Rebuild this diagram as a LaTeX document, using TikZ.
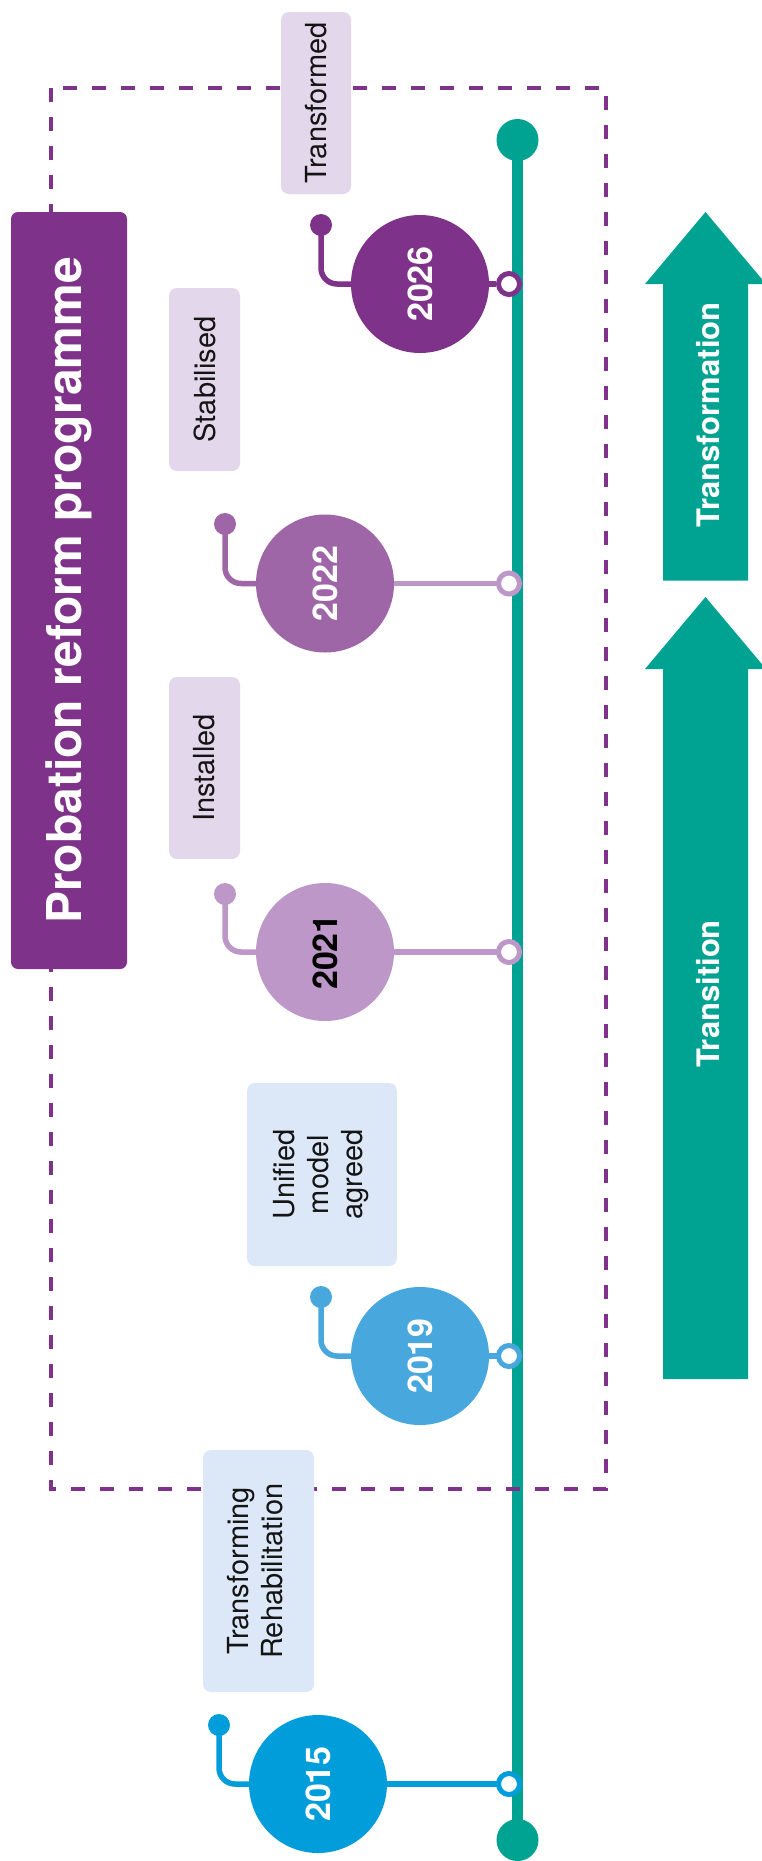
\documentclass[tikz,border=0pt]{standalone}
\usepackage{fontspec}
\usepackage{graphicx}
\setmainfont{TeX Gyre Heros}
\definecolor{pD}{HTML}{7F3289}
\definecolor{pM}{HTML}{9E66A7}
\definecolor{pL}{HTML}{BD97C7}
\definecolor{bA}{HTML}{48A7DD}
\definecolor{bB}{HTML}{009DDB}
\definecolor{gT}{HTML}{00A391}
\definecolor{boxP}{HTML}{E3D7EB}
\definecolor{boxB}{HTML}{DCE8F7}
\definecolor{txt}{HTML}{141414}
\tikzset{
  yearc/.style={circle, minimum size=138pt, inner sep=0pt, fill=#1},
  yeartxt/.style={font=\fontsize{34}{34}\selectfont\bfseries},
  dotn/.style={circle, minimum size=22pt, inner sep=0pt, fill=#1},
  ringn/.style={circle, minimum size=21pt, inner sep=0pt, fill=white, draw=#1, line width=5pt},
  hook/.style={draw=#1, line width=5.5pt, rounded corners=16pt},
  conn/.style={draw=#1, line width=5.5pt},
  labbox/.style={rectangle, rounded corners=8pt, inner sep=0pt, fill=#1, text=txt,
     font=\fontsize{29}{34}\selectfont},
  arrowlab/.style={rotate=90, text=white, font=\fontsize{31}{31}\selectfont\bfseries},
}
\begin{document}
\begin{tikzpicture}[x=1pt,y=-1pt]
\useasboundingbox (0,0) rectangle (762,1861);
\fill[white] (0,0) rectangle (762,1861);

% arrows on the right
\fill[gT] (705.5,212) -- (766,284) -- (748,284) -- (748,580.5) -- (663,580.5) -- (663,284) -- (645,284) -- cycle;
\fill[gT] (705.5,597) -- (766,669) -- (748,669) -- (748,1379) -- (663,1379) -- (663,669) -- (645,669) -- cycle;
\node[arrowlab] (tfl) at (708,415) {Transformation};
\node[arrowlab] (trl) at (708,994) {Transition};

% green timeline
\node[circle, fill=gT, minimum size=42pt, inner sep=0pt] (gtop) at (517.5,140) {};
\node[circle, fill=gT, minimum size=42pt, inner sep=0pt] (gbot) at (517.5,1840) {};
\draw[gT, line width=11pt] (gtop.center) -- (gbot.center);

% dashed frame
\draw[pD, line width=3.3pt, dash pattern=on 14pt off 15pt] (51,88) rectangle (606,1489);

% title
\node[rectangle, rounded corners=7pt, fill=pD, minimum width=116pt, minimum height=757pt, inner sep=0pt,
  text=white, font=\fontsize{48}{48}\selectfont\bfseries] (title) at (69,590.5)
  {\rotatebox{90}{Probation reform programme}};

% label boxes
\node[labbox=boxP, minimum width=70pt, minimum height=182pt] (bx26) at (316,103) {\rotatebox{90}{Transformed}};
\node[labbox=boxP, minimum width=71pt, minimum height=183pt] (bx22) at (204.5,379.5) {\rotatebox{90}{Stabilised}};
\node[labbox=boxP, minimum width=71pt, minimum height=182pt] (bx21) at (204.5,768) {\rotatebox{90}{Installed}};
\node[labbox=boxB, minimum width=150pt, minimum height=183pt] (bx19) at (322,1174.5)
  {\rotatebox{90}{\begin{tabular}{@{}c@{}}Unified\\model\\agreed\end{tabular}}};
\node[labbox=boxB, minimum width=111pt, minimum height=242pt] (bx15) at (258.5,1571)
  {\rotatebox{90}{\begin{tabular}{@{}c@{}}Transforming\\Rehabilitation\end{tabular}}};

% 2026
\node[yearc=pD] (c26) at (420,284) {};
\node[yeartxt, text=white] (t26) at (c26.center) {\rotatebox{90}{2026}};
\node[dotn=pD] (d26) at (321,225) {};
\node[ringn=pD] (r26) at (509,284) {};
\draw[hook=pD] (d26.center) |- (c26.west);
\draw[conn=pD] (c26.east) -- (r26.west);

% 2022
\node[yearc=pM] (c22) at (325,583.5) {};
\node[yeartxt, text=white] (t22) at (c22.center) {\rotatebox{90}{2022}};
\node[dotn=pM] (d22) at (225,524) {};
\draw[hook=pM] (d22.center) |- (c22.west);
\draw[conn=pL] (c22.east) -- (509,583.5);
\node[ringn=pL] (r22) at (509,583.5) {};

% 2021
\node[yearc=pL] (c21) at (325,952) {};
\node[yeartxt, text=black] (t21) at (c21.center) {\rotatebox{90}{2021}};
\node[dotn=pL] (d21) at (225,894) {};
\draw[hook=pL] (d21.center) |- (c21.west);
\draw[conn=pL] (c21.east) -- (509,952);
\node[ringn=pL] (r21) at (509,952) {};

% 2019
\node[yearc=bA] (c19) at (420,1356) {};
\node[yeartxt, text=white] (t19) at (c19.center) {\rotatebox{90}{2019}};
\node[dotn=bA] (d19) at (321,1297) {};
\draw[hook=bA] (d19.center) |- (c19.west);
\draw[conn=bA] (c19.east) -- (509,1356);
\node[ringn=bA] (r19) at (509,1356) {};

% 2015
\node[yearc=bB] (c15) at (318,1784) {};
\node[yeartxt, text=white] (t15) at (c15.center) {\rotatebox{90}{2015}};
\node[dotn=bB] (d15) at (219,1725) {};
\draw[hook=bB] (d15.center) |- (c15.west);
\draw[conn=bB] (c15.east) -- (509,1784);
\node[ringn=bB] (r15) at (509,1784) {};
\end{tikzpicture}
\end{document}
